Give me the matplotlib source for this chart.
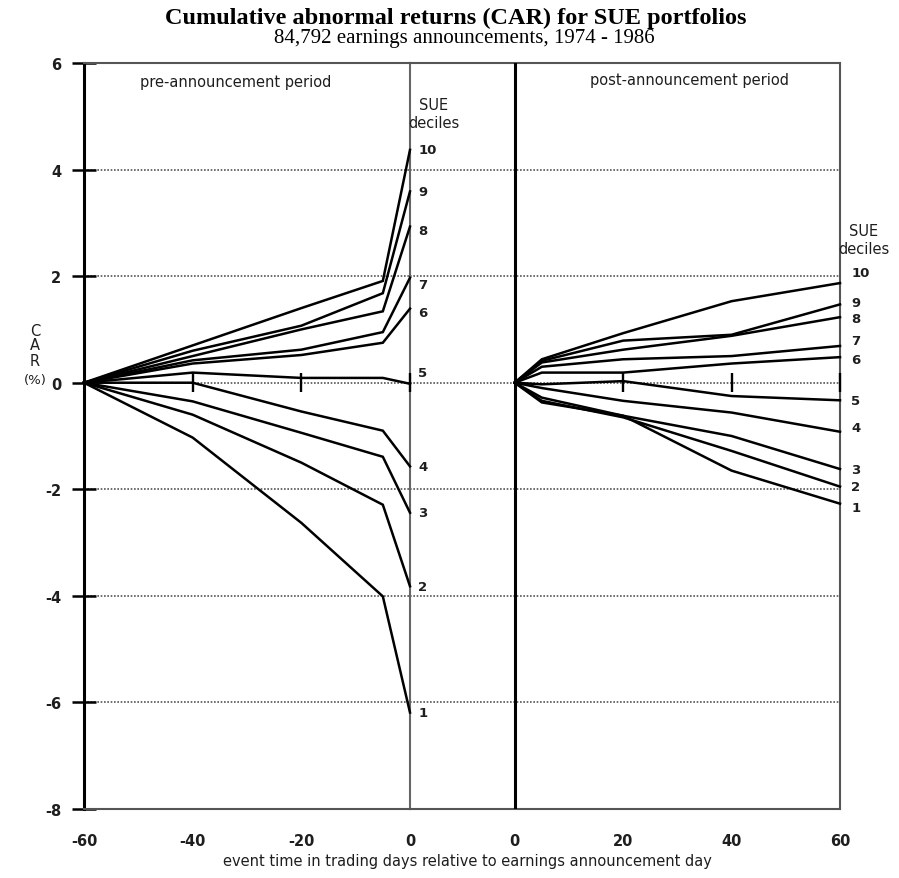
import matplotlib
matplotlib.use("Agg")
import matplotlib.pyplot as plt

plt.rcParams["axes.unicode_minus"] = False

W, H = 899, 879

# ---- data ----
deciles = [1, 2, 3, 4, 5, 6, 7, 8, 9, 10]
days_pre = [-60, -40, -20, -5, 0]
days_post = [0, 5, 20, 40, 60]

car_pre_1 = [0, -1.03, -2.63, -4.01, -6.19]
car_pre_2 = [0, -0.60, -1.50, -2.29, -3.82]
car_pre_3 = [0, -0.35, -0.94, -1.39, -2.44]
car_pre_4 = [0, 0.00, -0.54, -0.90, -1.57]
car_pre_5 = [0, 0.19, 0.09, 0.09, -0.02]
car_pre_6 = [0, 0.36, 0.52, 0.75, 1.39]
car_pre_7 = [0, 0.42, 0.62, 0.95, 1.97]
car_pre_8 = [0, 0.50, 1.00, 1.34, 2.93]
car_pre_9 = [0, 0.60, 1.07, 1.68, 3.59]
car_pre_10 = [0, 0.70, 1.40, 1.91, 4.37]

car_post_1 = [0, -0.37, -0.62, -1.65, -2.27]
car_post_2 = [0, -0.34, -0.65, -1.28, -1.95]
car_post_3 = [0, -0.28, -0.62, -1.00, -1.62]
car_post_4 = [0, -0.10, -0.34, -0.56, -0.92]
car_post_5 = [0, -0.03, 0.03, -0.25, -0.33]
car_post_6 = [0, 0.19, 0.19, 0.36, 0.48]
car_post_7 = [0, 0.30, 0.44, 0.50, 0.69]
car_post_8 = [0, 0.38, 0.62, 0.88, 1.23]
car_post_9 = [0, 0.41, 0.79, 0.90, 1.47]
car_post_10 = [0, 0.44, 0.93, 1.53, 1.87]

car_pre = [car_pre_1, car_pre_2, car_pre_3, car_pre_4, car_pre_5,
           car_pre_6, car_pre_7, car_pre_8, car_pre_9, car_pre_10]
car_post = [car_post_1, car_post_2, car_post_3, car_post_4, car_post_5,
            car_post_6, car_post_7, car_post_8, car_post_9, car_post_10]

err_pre_days = [-40, -20, 0]
err_post_days = [20, 40, 60]
err_half = 0.18

yticks = [-8, -6, -4, -2, 0, 2, 4, 6]
xticks_pre = [-60, -40, -20, 0]
xticks_post = [0, 20, 40, 60]

# label nudges (value units) for readability
lab_pre_nudge = {5: 0.22, 7: -0.12, 8: -0.08, 6: -0.08}
lab_post_nudge = {10: 0.2, 9: 0.03, 8: -0.03, 7: 0.1, 6: -0.05,
                  4: 0.08, 1: -0.08}

sans = "DejaVu Sans"
serif = "Liberation Serif"
ink = "#1e1e1e"

fig = plt.figure(figsize=(W / 100, H / 100), dpi=100)
fig.patch.set_facecolor("white")

bottom = 1 - 810 / H
height = (810 - 64) / H
ax2 = fig.add_axes([410 / W, bottom, (840 - 410) / W, height])
ax1 = fig.add_axes([84 / W, bottom, (410 - 84) / W, height])
ax2.patch.set_alpha(0)
ax1.patch.set_alpha(0)

px_per_day = (410 - 84) / 60.0
gap = (515 - 410) / px_per_day

for ax in (ax1, ax2):
    ax.set_ylim(-8, 6)
    ax.set_yticks(yticks)
    ax.grid(axis="y", linestyle=(0, (1, 1)), color="#555555", linewidth=1.2)
    ax.grid(axis="x", visible=False)
    ax.set_axisbelow(True)
    for s in ("top", "bottom"):
        ax.spines[s].set_linestyle((0, (1, 1)))
        ax.spines[s].set_color("#555555")
        ax.spines[s].set_linewidth(1.5)
    ax.tick_params(axis="x", length=0, pad=17, labelsize=10.5)

ax1.set_xlim(-60, 0)
ax2.set_xlim(-gap, 60)

ax1.spines["left"].set_linewidth(2.2)
ax1.spines["left"].set_color("black")
ax1.spines["right"].set_linewidth(1.5)
ax1.spines["right"].set_color("#666666")
ax2.spines["left"].set_visible(False)
ax2.spines["right"].set_linestyle((0, (1, 1)))
ax2.spines["right"].set_color("#555555")
ax2.spines["right"].set_linewidth(1.5)
ax2.axvline(0, color="black", linewidth=2.2, zorder=3)

ax1.tick_params(axis="y", direction="inout", length=17, width=1.8,
                labelsize=10.5, pad=8)
ax2.tick_params(axis="y", left=False, right=False, labelleft=False)

ax1.set_xticks(xticks_pre)
ax1.set_xticklabels([str(v) for v in xticks_pre])
ax2.set_xticks(xticks_post)
ax2.set_xticklabels([str(v) for v in xticks_post])
for ax in (ax1, ax2):
    for t in ax.get_xticklabels() + ax.get_yticklabels():
        t.set_fontfamily(sans)
        t.set_fontweight("bold")
        t.set_color(ink)

# lines
for d, ys in zip(deciles, car_pre):
    ax1.plot(days_pre, ys, color="black", linewidth=1.8, solid_joinstyle="miter",
             clip_on=False, zorder=4)
    ax1.annotate(str(d), xy=(days_pre[-1], ys[-1] + lab_pre_nudge.get(d, 0)),
                 xytext=(6, 0), textcoords="offset points", va="center",
                 ha="left", fontsize=9.5, fontweight="bold", family=sans,
                 color=ink, annotation_clip=False)
for d, ys in zip(deciles, car_post):
    ax2.plot(days_post, ys, color="black", linewidth=1.8, solid_joinstyle="miter",
             clip_on=False, zorder=4)
    ax2.annotate(str(d), xy=(days_post[-1], ys[-1] + lab_post_nudge.get(d, 0)),
                 xytext=(8, 0), textcoords="offset points", va="center",
                 ha="left", fontsize=9.5, fontweight="bold", family=sans,
                 color=ink, annotation_clip=False)

ax1.errorbar(err_pre_days, [0] * len(err_pre_days), yerr=err_half, fmt="none",
             ecolor="black", elinewidth=1.7, capsize=0, clip_on=False, zorder=5)
ax2.errorbar(err_post_days, [0] * len(err_post_days), yerr=err_half, fmt="none",
             ecolor="black", elinewidth=1.7, capsize=0, clip_on=False, zorder=5)

# panel texts
fig.text(236 / W, 1 - 82 / H, "pre-announcement period",
         ha="center", va="center", fontsize=10.5, family=sans, color=ink)
fig.text(690 / W, 1 - 80 / H, "post-announcement period",
         ha="center", va="center", fontsize=10.5, family=sans, color=ink)

fig.text(434 / W, 1 - 115 / H, "SUE\ndeciles", ha="center", va="center",
         fontsize=10.5, family=sans, color=ink, linespacing=1.25)
fig.text(864 / W, 1 - 241 / H, "SUE\ndeciles", ha="center", va="center",
         fontsize=10.5, family=sans, color=ink, linespacing=1.25)

# y axis label
fig.text(35 / W, 1 - 346 / H, "C\nA\nR", ha="center", va="center",
         fontsize=10.5, family=sans, color=ink, linespacing=1.0)
fig.text(35 / W, 1 - 381 / H, "(%)", ha="center", va="center",
         fontsize=9.5, family=sans, color=ink)

# x label
fig.text(467 / W, 1 - 862 / H,
         "event time in trading days relative to earnings announcement day",
         ha="center", va="center", fontsize=10.5, family=sans, color=ink)

# titles
fig.text(456 / W, 1 - 18 / H,
         "Cumulative abnormal returns (CAR) for SUE portfolios",
         ha="center", va="center", fontsize=17.5, fontweight="bold", family=serif)
fig.text(464 / W, 1 - 38 / H, "84,792 earnings announcements, 1974 - 1986",
         ha="center", va="center", fontsize=15, family=serif)

fig.savefig("out.png", dpi=100, facecolor="white")
